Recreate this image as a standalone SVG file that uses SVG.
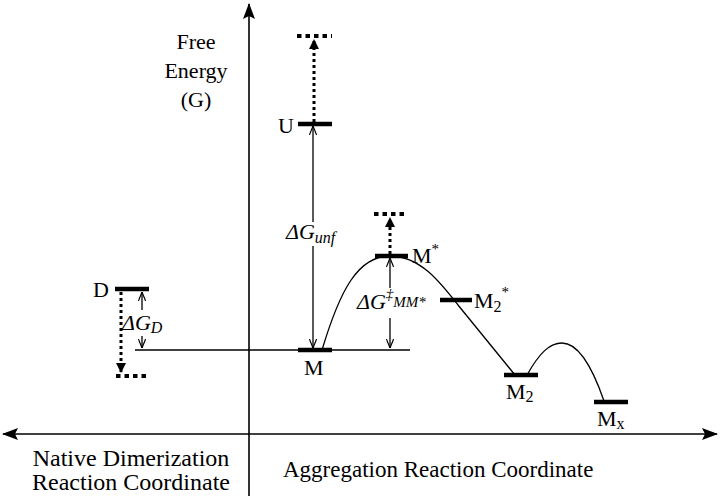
<svg xmlns="http://www.w3.org/2000/svg" width="720" height="496" viewBox="0 0 720 496">
<defs>
<style>
text{font-family:"Liberation Serif","Times New Roman",serif;fill:#000}
.lbl{font-size:22px}
.ax{font-size:23px}
.axl{font-size:24px}
.fe{font-size:22px}
.it{font-style:italic}
.bar{stroke:#000;stroke-width:4.5;fill:none}
.thin{stroke:#000;stroke-width:1.3;fill:none}
.axis{stroke:#000;stroke-width:1.6;fill:none}
.dot{stroke:#000;stroke-width:3;stroke-dasharray:3 3;fill:none}
.dbar{stroke:#000;stroke-width:4;stroke-dasharray:4.5 4;fill:none}
</style>
<marker id="big" viewBox="0 0 10 10" refX="9" refY="5" markerWidth="10" markerHeight="10" markerUnits="userSpaceOnUse" orient="auto-start-reverse">
<path d="M0,0 L10,5 L0,10 Z" fill="#000"/>
</marker>
<marker id="axh" viewBox="0 0 16 12" refX="15" refY="6" markerWidth="16" markerHeight="12" markerUnits="userSpaceOnUse" orient="auto-start-reverse">
<path d="M0,0 L16,6 L0,12 L3,6 Z" fill="#000"/>
</marker>
<marker id="sm" viewBox="0 0 10 10" refX="10" refY="5" markerWidth="9" markerHeight="9" markerUnits="userSpaceOnUse" orient="auto-start-reverse">
<path d="M0,1 L10,5 L0,9" fill="none" stroke="#000" stroke-width="1.3"/>
</marker>
</defs>

<g id="connectors">
<line class="axis" x1="249" y1="496" x2="249" y2="4" marker-end="url(#axh)"/>
<line class="axis" x1="3" y1="434" x2="717" y2="434" marker-start="url(#axh)" marker-end="url(#axh)"/>
<line class="thin" x1="135" y1="350" x2="410" y2="350"/>
<path class="thin" d="M322,350 C340,290 358,256 390,256 C420,256 440,282 458,305 L515,375"/>
<path class="thin" d="M527,375 C540,352 550,343 562,343 C580,343 594,372 604,401"/>
<line class="thin" x1="142" y1="310" x2="142" y2="292" marker-end="url(#sm)"/>
<line class="thin" x1="142" y1="336" x2="142" y2="348" marker-end="url(#sm)"/>
<line class="thin" x1="313" y1="222" x2="313" y2="126" marker-end="url(#sm)"/>
<line class="thin" x1="313" y1="246" x2="313" y2="348" marker-end="url(#sm)"/>
<line class="thin" x1="390" y1="288" x2="390" y2="258" marker-end="url(#sm)"/>
<line class="thin" x1="390" y1="318" x2="390" y2="348" marker-end="url(#sm)"/>
<line class="dot" x1="121" y1="292" x2="121" y2="372" marker-end="url(#big)"/>
<line class="dot" x1="314" y1="122" x2="314" y2="40" marker-end="url(#big)"/>
<line class="dot" x1="390" y1="254" x2="390" y2="218" marker-end="url(#big)"/>
</g>

<g id="axis-labels">
<text class="fe" x="196" y="49" text-anchor="middle">Free</text>
<text class="fe" x="196" y="78" text-anchor="middle">Energy</text>
<text class="fe" x="196" y="107" text-anchor="middle">(G)</text>
<text class="axl" x="131" y="466" text-anchor="middle">Native Dimerization</text>
<text class="axl" x="131" y="490" text-anchor="middle">Reaction Coordinate</text>
<text class="ax" x="283" y="477">Aggregation Reaction Coordinate</text>
</g>

<g id="node-D">
<line class="bar" x1="115" y1="289" x2="149" y2="289"/>
<text class="lbl" x="93" y="297" font-size="23">D</text>
<line class="dbar" x1="116" y1="376" x2="150" y2="376"/>
<text class="lbl it" x="122" y="330">ΔG<tspan font-size="16" dy="3">D</tspan></text>
</g>

<g id="node-U">
<line class="bar" x1="298" y1="124" x2="332" y2="124"/>
<text class="lbl" x="278" y="133">U</text>
<line class="dbar" x1="297" y1="36" x2="332" y2="36"/>
</g>

<g id="node-M">
<line class="bar" x1="298" y1="350" x2="332" y2="350"/>
<text class="lbl" x="304" y="375">M</text>
<text class="lbl it" x="286" y="239">ΔG<tspan font-size="16" dy="4">unf</tspan></text>
</g>

<g id="node-Mstar">
<line class="bar" x1="375" y1="256" x2="408" y2="256"/>
<text class="lbl" x="412" y="263">M<tspan font-size="15" dy="-9">*</tspan></text>
<line class="dbar" x1="374" y1="214" x2="408" y2="214"/>
<text class="lbl it" x="357" y="309">ΔG<tspan font-size="15" dy="-10">‡</tspan><tspan font-size="15" dy="8">MM*</tspan></text>
</g>

<g id="node-M2star">
<line class="bar" x1="440" y1="300" x2="472" y2="300"/>
<text class="lbl" x="474" y="308">M<tspan font-size="16" dy="4">2</tspan><tspan font-size="15" dy="-15">*</tspan></text>
</g>

<g id="node-M2">
<line class="bar" x1="504" y1="375" x2="538" y2="375"/>
<text class="lbl" x="506" y="399">M<tspan font-size="16" dy="3">2</tspan></text>
</g>

<g id="node-Mx">
<line class="bar" x1="594" y1="402" x2="628" y2="402"/>
<text class="lbl" x="597" y="426">M<tspan font-size="16" dy="3">x</tspan></text>
</g>
</svg>
